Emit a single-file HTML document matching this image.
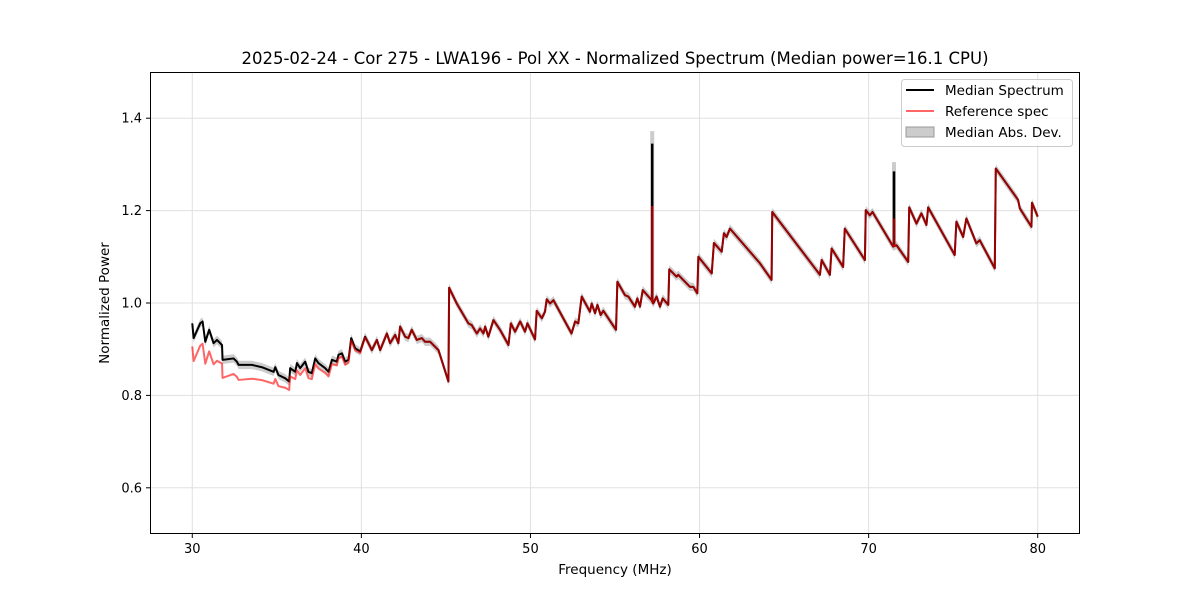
<!DOCTYPE html>
<html><head><meta charset="utf-8"><style>
body{margin:0;background:#fff;}
svg{display:block;font-family:"DejaVu Sans","Liberation Sans",sans-serif;}
</style></head><body>
<svg id="chart" width="1200" height="600" viewBox="0 0 1200 600" xmlns="http://www.w3.org/2000/svg">
<rect x="0" y="0" width="1200" height="600" fill="#fff"/>
<text x="615" y="64" text-anchor="middle" font-size="16.5">2025-02-24 - Cor 275 - LWA196 - Pol XX - Normalized Spectrum (Median power=16.1 CPU)</text>
<g id="grid"></g>
<g id="band"></g>
<g id="lines"></g>
<rect x="150.5" y="72.5" width="929" height="461" fill="none" stroke="#000" stroke-width="1"/>
<g id="ticks"></g>
<text x="615" y="574" text-anchor="middle" font-size="13.5">Frequency (MHz)</text>
<text x="0" y="0" transform="translate(109,303) rotate(-90)" text-anchor="middle" font-size="13.5">Normalized Power</text>
<g>
<rect x="901.5" y="79.5" width="171" height="67" rx="3" fill="#fff" fill-opacity="0.8" stroke="#ccc"/>
<line x1="906" y1="90" x2="934" y2="90" stroke="#000" stroke-width="2"/>
<text x="945" y="95" font-size="13.5">Median Spectrum</text>
<line x1="906" y1="111" x2="934" y2="111" stroke="#f00" stroke-opacity="0.6" stroke-width="2"/>
<text x="945" y="116" font-size="13.5">Reference spec</text>
<rect x="906" y="127" width="28" height="10" fill="#808080" fill-opacity="0.4" stroke="#999"/>
<text x="945" y="137" font-size="13.5">Median Abs. Dev.</text>
</g>
</svg>
<script>
const freqs=[30.0,30.08,30.47,30.61,30.77,31.0,31.26,31.46,31.76,31.79,32.44,32.64,32.74,33.53,34.12,34.81,34.91,35.1,35.5,35.73,35.79,36.09,36.19,36.38,36.68,36.87,37.07,37.27,37.46,37.86,38.06,38.26,38.55,38.65,38.85,39.04,39.24,39.4,39.63,39.93,40.22,40.42,40.62,40.92,41.11,41.51,41.7,42.0,42.19,42.29,42.59,42.78,42.98,43.28,43.58,43.77,44.07,44.56,45.15,45.19,45.64,46.33,46.53,46.83,47.02,47.22,47.32,47.51,47.81,48.2,48.7,48.84,49.09,49.39,49.68,49.82,50.27,50.37,50.67,50.86,50.96,51.16,51.36,52.43,52.64,52.83,53.03,53.52,53.62,53.82,53.96,54.15,54.31,55.06,55.14,55.59,55.79,56.18,56.32,56.48,56.64,57.17,57.26,57.46,57.66,57.82,58.15,58.21,58.64,58.74,59.43,59.63,59.87,59.93,60.72,60.85,61.31,61.44,61.6,61.8,63.57,64.26,64.3,67.12,67.22,67.71,67.81,68.49,68.59,69.78,69.83,70.07,70.23,71.45,71.65,72.34,72.4,72.83,73.12,73.42,73.52,75.09,75.19,75.59,75.78,76.37,76.57,77.46,77.52,78.84,78.94,79.63,79.66,80.0];
const medianValues=[0.956,0.924,0.956,0.96,0.916,0.942,0.913,0.92,0.909,0.877,0.88,0.873,0.866,0.866,0.861,0.851,0.861,0.844,0.837,0.83,0.859,0.851,0.87,0.859,0.873,0.851,0.848,0.88,0.87,0.859,0.851,0.877,0.873,0.888,0.891,0.873,0.877,0.924,0.902,0.895,0.927,0.913,0.898,0.92,0.898,0.934,0.913,0.931,0.913,0.949,0.927,0.924,0.942,0.92,0.924,0.916,0.916,0.898,0.83,1.033,0.999,0.956,0.952,0.934,0.945,0.934,0.949,0.927,0.963,0.942,0.909,0.956,0.938,0.96,0.938,0.956,0.921,0.983,0.967,0.981,1.008,0.999,1.006,0.934,0.96,0.956,1.014,0.981,0.999,0.978,0.996,0.974,0.983,0.942,1.046,1.017,1.014,0.992,1.01,0.992,1.028,1.006,0.999,1.014,0.992,1.01,0.996,1.073,1.057,1.061,1.035,1.035,1.021,1.1,1.064,1.13,1.111,1.151,1.143,1.161,1.086,1.05,1.197,1.061,1.093,1.061,1.118,1.078,1.161,1.093,1.201,1.19,1.197,1.122,1.125,1.089,1.207,1.172,1.194,1.169,1.207,1.104,1.176,1.143,1.183,1.129,1.136,1.075,1.291,1.223,1.205,1.165,1.217,1.187];
const offsetFreqs=[30,31.5,32,35,36,38,39.5,40.5,80];
const offsetValues=[0.05,0.045,0.035,0.025,0.016,0.01,0.005,0,0];
const spikeFreqs=[57.2,71.5];
const spikeMedian=[1.345,1.285];
const spikeRef=[1.21,1.183];
const spikeMad=[1.372,1.305];
const madHalfWidth=0.009;
const xTicks=[30,40,50,60,70,80];
const yTicks=[0.6,0.8,1.0,1.2,1.4];

const NS="http://www.w3.org/2000/svg";
const X=f=>150+(f-27.5)/55*930;
const Y=v=>534-(v-0.5)/1.0*462;
function mk(tag,attrs,parent){const e=document.createElementNS(NS,tag);for(const k in attrs)e.setAttribute(k,attrs[k]);parent.appendChild(e);return e;}
function interp(f,xs,ys){if(f<=xs[0])return ys[0];for(let i=1;i<xs.length;i++){if(f<=xs[i]){const t=(f-xs[i-1])/(xs[i]-xs[i-1]);return ys[i-1]+t*(ys[i]-ys[i-1]);}}return ys[ys.length-1];}
const grid=document.getElementById('grid'),ticks=document.getElementById('ticks'),band=document.getElementById('band'),lines=document.getElementById('lines');
xTicks.forEach(t=>{
 const g=mk('line',{x1:X(t),x2:X(t),y1:72,y2:534,stroke:'#e0e0e0','stroke-width':1},grid);
 
 
 const tk=mk('line',{x1:X(t),x2:X(t),y1:534,y2:538,stroke:'#000'},ticks);
 
 
 const tx=mk('text',{x:X(t),y:553,'text-anchor':'middle','font-size':13},ticks);
 tx.textContent=t;
 
 
});
yTicks.forEach(t=>{
 const g=mk('line',{x1:150,x2:1080,y1:Y(t),y2:Y(t),stroke:'#e0e0e0','stroke-width':1},grid);
 
 
 const tk=mk('line',{x1:146,x2:150,y1:Y(t),y2:Y(t),stroke:'#000'},ticks);
 
 
 const tx=mk('text',{x:142,y:Y(t)+4.5,'text-anchor':'end','font-size':13},ticks);
 tx.textContent=t.toFixed(1);
 
 
});
let up=[],dn=[];
freqs.forEach((f,i)=>{up.push(X(f)+','+Y(medianValues[i]+madHalfWidth));dn.unshift(X(f)+','+Y(medianValues[i]-madHalfWidth));});
const bp=mk('polygon',{points:up.concat(dn).join(' '),fill:'#808080','fill-opacity':0.4},band);


spikeFreqs.forEach((f,i)=>{
 const s=mk('rect',{x:X(f)-2,y:Y(spikeMad[i]),width:4,height:Y(interp(f,freqs,medianValues))-Y(spikeMad[i]),fill:'#808080','fill-opacity':0.4},band);
 
 
});
const med=mk('polyline',{points:freqs.map((f,i)=>X(f)+','+Y(medianValues[i])).join(' '),fill:'none',stroke:'#000','stroke-width':2,'stroke-linejoin':'round'},lines);


spikeFreqs.forEach((f,i)=>{
 const s=mk('line',{x1:X(f),x2:X(f),y1:Y(interp(f,freqs,medianValues)),y2:Y(spikeMedian[i]),stroke:'#000','stroke-width':2.5},lines);
 
 
});
const ref=mk('polyline',{points:freqs.map((f,i)=>X(f)+','+Y(medianValues[i]-interp(f,offsetFreqs,offsetValues))).join(' '),fill:'none',stroke:'#f00','stroke-opacity':0.6,'stroke-width':2,'stroke-linejoin':'round'},lines);


spikeFreqs.forEach((f,i)=>{
 const s=mk('line',{x1:X(f),x2:X(f),y1:Y(interp(f,freqs,medianValues)),y2:Y(spikeRef[i]),stroke:'#f00','stroke-opacity':0.6,'stroke-width':2.5},lines);
 
 
});
</script>
</body></html>
